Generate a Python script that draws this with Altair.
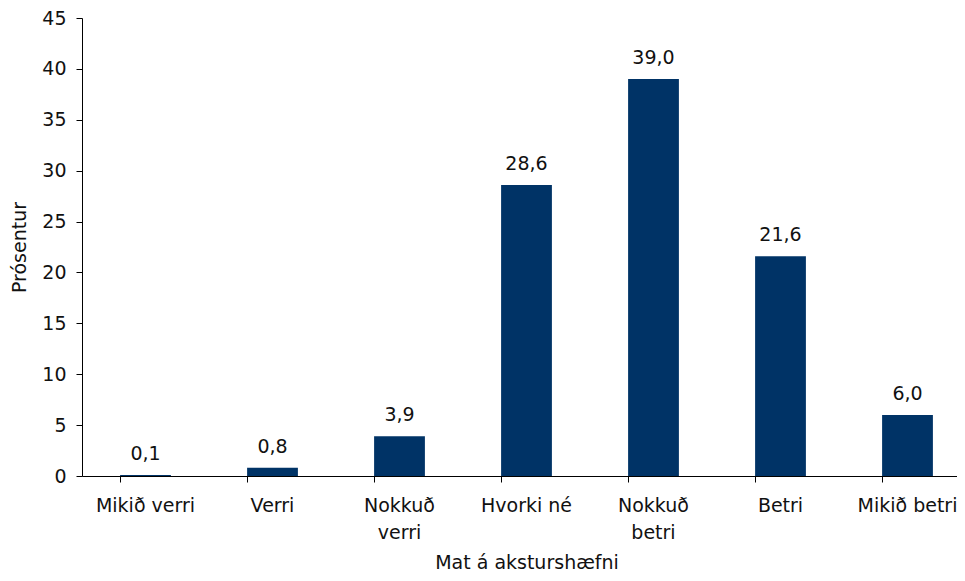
import altair as alt
import pandas as pd

categories = ["Mikið verri", "Verri", "Nokkuð verri", "Hvorki né", "Nokkuð betri", "Betri", "Mikið betri"]
axis_labels = [["Mikið verri"], ["Verri"], ["Nokkuð", "verri"], ["Hvorki né"], ["Nokkuð", "betri"], ["Betri"], ["Mikið betri"]]
values = [0.1, 0.8, 3.9, 28.6, 39.0, 21.6, 6.0]

df = pd.DataFrame({
    "cat": categories,
    "value": values,
    "label": [f"{v:.1f}".replace(".", ",") for v in values],
})

label_expr = "{" + ", ".join(
    f"'{c}': [" + ", ".join(f"'{p}'" for p in parts) + "]" for c, parts in zip(categories, axis_labels)
) + "}[datum.value]"

FONT = "DejaVu Sans"
NAVY = "#003366"
FS = 19

x = alt.X("cat:N", sort=categories,
          scale=alt.Scale(paddingInner=0.6, paddingOuter=0.3, range=[0, 889]),
          axis=alt.Axis(title="Mat á akstursæfni".replace("stursæ", "sturshæ"), labelAngle=0, labelExpr=label_expr,
                        labelLineHeight=27, labelBaseline="top",
                        bandPosition=0, tickSize=6, labelPadding=14, titlePadding=11,
                        domainColor="black", tickColor="black", labelColor="#111111",
                        titleColor="#111111", labelFontSize=FS, titleFontSize=FS,
                        labelFont=FONT, titleFont=FONT, titleFontWeight="normal"))
y = alt.Y("value:Q",
          scale=alt.Scale(domain=[0, 45], nice=False),
          axis=alt.Axis(title="Prósentur", values=list(range(0, 50, 5)), grid=False,
                        tickSize=6, labelPadding=10, titlePadding=12,
                        domainColor="black", tickColor="black", labelColor="#111111",
                        titleColor="#111111", labelFontSize=FS, titleFontSize=FS,
                        labelFont=FONT, titleFont=FONT, titleFontWeight="normal"))

bars = alt.Chart(df).mark_bar(color=NAVY).encode(x=x, y=y)
text = alt.Chart(df).mark_text(dy=-15, baseline="alphabetic", font=FONT, fontSize=FS, color="#111111").encode(
    x=alt.X("cat:N", sort=categories), y="value:Q", text="label:N")

chart = (bars + text).properties(
    width=875, height=458,
    autosize=alt.AutoSizeParams(type="none"),
    padding={"left": 74, "top": 10, "right": 0, "bottom": 97},
).configure_view(stroke=None)

chart.save("out.html", embed_options={"renderer": "svg", "actions": False})
